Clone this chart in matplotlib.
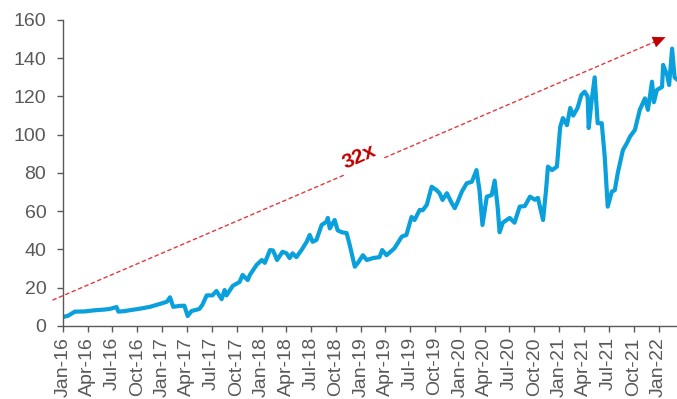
import matplotlib
matplotlib.use("Agg")
import matplotlib.pyplot as plt
import matplotlib.dates as mdates
import pandas as pd

plt.rcParams['font.family'] = ['Liberation Sans', 'DejaVu Sans']

dates = [
    "2016-01-01", "2016-01-19", "2016-02-14", "2016-03-20", "2016-04-26", "2016-06-03",
    "2016-06-21", "2016-07-16", "2016-07-23", "2016-08-15", "2016-09-10", "2016-10-09",
    "2016-11-16", "2016-12-22", "2017-01-18", "2017-01-29", "2017-02-10", "2017-03-05",
    "2017-03-23", "2017-04-04", "2017-04-18", "2017-05-17", "2017-05-28", "2017-06-13",
    "2017-07-04", "2017-07-19", "2017-08-07", "2017-08-18", "2017-08-25", "2017-09-17",
    "2017-10-12", "2017-10-23", "2017-11-11", "2017-11-19", "2017-12-14", "2018-01-02",
    "2018-01-13", "2018-02-01", "2018-02-12", "2018-02-27", "2018-03-19", "2018-04-03",
    "2018-04-14", "2018-04-25", "2018-05-09", "2018-05-28", "2018-06-16", "2018-06-27",
    "2018-07-08", "2018-07-22", "2018-08-10", "2018-08-28", "2018-09-02", "2018-09-09",
    "2018-09-27", "2018-10-08", "2018-10-23", "2018-11-10", "2018-11-22", "2018-12-10",
    "2018-12-21", "2019-01-09", "2019-01-23", "2019-02-15", "2019-03-11", "2019-03-21",
    "2019-04-06", "2019-05-05", "2019-06-01", "2019-06-18", "2019-07-07", "2019-07-18",
    "2019-08-06", "2019-08-17", "2019-09-01", "2019-09-19", "2019-10-07", "2019-10-18",
    "2019-10-29", "2019-11-14", "2019-12-02", "2019-12-13", "2019-12-24", "2020-01-08",
    "2020-01-26", "2020-02-14", "2020-03-02", "2020-03-13", "2020-03-24", "2020-04-09",
    "2020-04-27", "2020-05-08", "2020-05-19", "2020-05-26", "2020-06-07", "2020-07-02",
    "2020-07-20", "2020-08-08", "2020-08-27", "2020-09-15", "2020-10-03", "2020-10-14",
    "2020-11-02", "2020-11-13", "2020-11-20", "2020-12-05", "2020-12-23", "2021-01-04",
    "2021-01-14", "2021-01-29", "2021-02-10", "2021-02-21", "2021-03-09", "2021-03-23",
    "2021-04-04", "2021-04-15", "2021-04-19", "2021-04-30", "2021-05-11", "2021-05-22",
    "2021-06-06", "2021-06-17", "2021-06-28", "2021-07-13", "2021-07-24", "2021-08-04",
    "2021-08-23", "2021-09-07", "2021-09-18", "2021-10-06", "2021-10-24", "2021-11-12",
    "2021-11-23", "2021-12-08", "2021-12-15", "2021-12-26", "2022-01-14", "2022-01-18",
    "2022-02-02", "2022-02-09", "2022-02-20", "2022-03-01", "2022-03-12",
]
values = [
    4.7, 5.3, 7.5, 7.6, 8.2, 8.6,
    8.9, 9.9, 7.5, 7.8, 8.4, 9.0,
    10.0, 11.5, 12.7, 15.0, 10.0, 10.5,
    10.6, 5.2, 7.8, 8.9, 11.0, 16.0,
    16.0, 18.3, 14.0, 18.8, 16.0, 21.0,
    23.0, 26.7, 24.0, 26.7, 32.0, 34.5,
    33.0, 39.7, 39.5, 34.5, 38.8, 38.0,
    35.5, 38.0, 36.0, 39.7, 44.0, 47.6,
    44.0, 45.0, 52.8, 54.5, 56.5, 51.0,
    55.4, 50.0, 49.0, 48.6, 42.0, 31.0,
    32.9, 37.0, 34.5, 35.5, 36.0, 39.7,
    37.0, 40.6, 46.7, 47.6, 57.0, 55.4,
    60.7, 60.5, 63.3, 72.8, 71.0, 69.4,
    65.9, 69.4, 64.2, 61.6, 65.0, 70.2,
    74.6, 75.4, 81.5, 71.0, 52.8, 67.6,
    68.5, 76.0, 62.0, 49.0, 54.0, 56.5,
    54.0, 62.4, 62.7, 67.6, 66.0, 67.0,
    55.4, 71.0, 83.3, 81.5, 83.3, 104.0,
    108.7, 105.0, 114.0, 110.0, 114.0, 120.8,
    122.5, 120.0, 103.5, 118.0, 130.0, 106.0,
    106.0, 88.5, 62.4, 70.2, 71.0, 80.0,
    92.0, 95.7, 99.0, 102.5, 113.0, 119.0,
    113.0, 127.7, 117.0, 123.4, 125.0, 136.5,
    131.0, 126.0, 145.0, 130.0, 128.6,
]

arrow_start = ("2015-11-25", 13.6)
arrow_end = ("2022-01-27", 151.0)
label_text = "32x"
label_pos = ("2018-12-28", 88.4)

tick_dates = pd.date_range("2016-01-01", "2022-01-01", freq="3MS")
y_ticks = [0, 20, 40, 60, 80, 100, 120, 140, 160]

x = pd.to_datetime(dates)

fig = plt.figure(figsize=(6.77, 3.99), dpi=100)
ax = fig.add_axes([0.093, 0.183, 0.907, 0.767])

ax.plot(x, values, color="#0AA0DC", lw=3.0, solid_joinstyle="round",
        solid_capstyle="round", clip_on=True)

ax.set_ylim(0, 160)
ax.set_yticks(y_ticks)
ax.set_xlim(pd.Timestamp("2016-01-01"), pd.Timestamp("2022-03-10"))
ax.set_xticks(tick_dates)
ax.xaxis.set_major_formatter(mdates.DateFormatter("%b-%y"))

for s in ["top", "right"]:
    ax.spines[s].set_visible(False)
for s in ["left", "bottom"]:
    ax.spines[s].set_color("#595959")
    ax.spines[s].set_linewidth(1.0)

ax.tick_params(axis="y", colors="#595959", labelsize=14, length=4, width=1, pad=8)
ax.tick_params(axis="x", colors="#595959", labelsize=14, length=4, width=1, pad=4,
               labelrotation=90)

# dotted arrow shaft
ax.annotate("", xy=(pd.Timestamp(arrow_end[0]), arrow_end[1]),
            xytext=(pd.Timestamp(arrow_start[0]), arrow_start[1]),
            xycoords="data", textcoords="data", annotation_clip=False,
            arrowprops=dict(arrowstyle="-", color="#E03A3E", lw=1.0,
                            linestyle=(0, (2.5, 2.5)), shrinkA=0, shrinkB=0))
# arrow head solid fill
ax.annotate("", xy=(pd.Timestamp(arrow_end[0]), arrow_end[1]),
            xytext=(pd.Timestamp("2021-12-01"), arrow_end[1] - 3.4),
            xycoords="data", textcoords="data", annotation_clip=False,
            arrowprops=dict(arrowstyle="-|>,head_length=0.9,head_width=0.4",
                            color="#C00000", lw=0.1, shrinkA=0, shrinkB=0))

ax.text(pd.Timestamp(label_pos[0]), label_pos[1], label_text, color="#C00000",
        fontsize=15, fontweight="bold", rotation=24, ha="center", va="center",
        bbox=dict(facecolor="white", edgecolor="none", pad=3))

fig.savefig("out.png", dpi=100)
